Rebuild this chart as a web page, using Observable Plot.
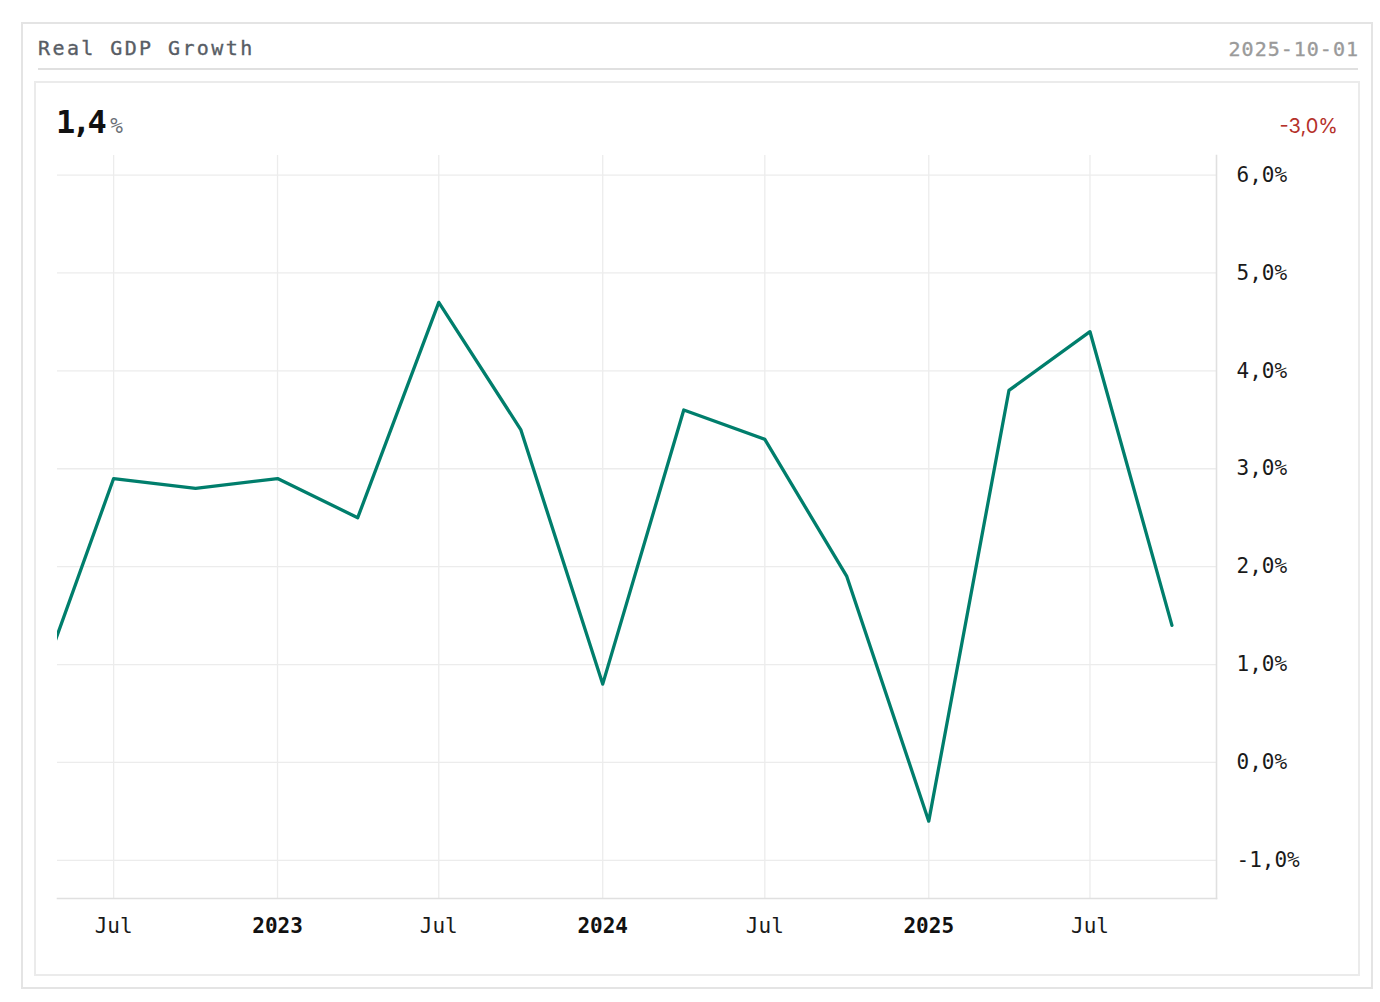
<!DOCTYPE html>
<html>
<head>
<meta charset="utf-8">
<script src="https://cdn.jsdelivr.net/npm/d3@7"></script>
<script src="https://cdn.jsdelivr.net/npm/@observablehq/plot@0.6"></script>
<style>
  html, body { margin: 0; padding: 0; background: #fff; }
  body { width: 1380px; height: 1002px; position: relative; overflow: hidden; }
  .outer { position: absolute; left: 21px; top: 22px; width: 1348px; height: 963px; border: 2px solid #e4e4e4; box-sizing: content-box; }
  .title { position: absolute; left: 38px; top: 36px; font: 400 20px "DejaVu Sans Mono", monospace; letter-spacing: 2.4px; color: #585d65; -webkit-text-stroke: 0.35px #585d65; }
  .date { position: absolute; right: 21px; top: 37px; font: 400 20px "DejaVu Sans Mono", monospace; letter-spacing: 1px; color: #9a9a9a; -webkit-text-stroke: 0.35px #9a9a9a; }
  .hline { position: absolute; left: 38px; top: 68px; width: 1320px; height: 2px; background: #e0e0e0; }
  .inner { position: absolute; left: 34px; top: 81px; width: 1322px; height: 891px; border: 2px solid #ebebeb; }
  .big { position: absolute; left: 56px; top: 103px; font: 700 32px "DejaVu Sans Mono", monospace; color: #111; letter-spacing: -3.5px; }
  .big span { font: 400 21px "DejaVu Sans Mono", monospace; color: #6a6f76; letter-spacing: 0; margin-left: 7px; }
  .chg { position: absolute; right: 42px; top: 114px; font: 400 20px Inter, sans-serif; color: #b5312a; }
  #chart { position: absolute; left: 37px; top: 140px; }
</style>
</head>
<body>
<div class="outer"></div>
<div class="title">Real GDP Growth</div>
<div class="date" id="date"></div>
<div class="hline"></div>
<div class="inner"></div>
<div class="big" id="big"></div>
<div class="chg" id="chg"></div>
<div id="chart"></div>
<script>
// Quarter start dates and annualized real GDP growth (%)
const quarters = ["2022-04-01","2022-07-01","2022-10-01","2023-01-01","2023-04-01","2023-07-01","2023-10-01","2024-01-01","2024-04-01","2024-07-01","2024-10-01","2025-01-01","2025-04-01","2025-07-01","2025-10-01"];
const growth = [0.6, 2.9, 2.8, 2.9, 2.5, 4.7, 3.4, 0.8, 3.6, 3.3, 1.9, -0.6, 3.8, 4.4, 1.4];
const yTicks = [-1, 0, 1, 2, 3, 4, 5, 6];
const yearTicks = ["2023-01-01", "2024-01-01", "2025-01-01"];
const julTicks = ["2022-07-01", "2023-07-01", "2024-07-01", "2025-07-01"];
const xDomain = ["2022-04-29", "2025-11-20"];
const yDomain = [-1.39, 6.2];

const data = quarters.map((q, i) => ({date: new Date(q + "T00:00:00Z"), value: growth[i]}));
const fmtPct = v => v.toFixed(1).replace(".", ",") + "%";
const last = growth[growth.length - 1];
const prev = growth[growth.length - 2];
document.getElementById("date").textContent = quarters[quarters.length - 1];
document.getElementById("big").innerHTML = last.toFixed(1).replace(".", ",") + "<span>%</span>";
document.getElementById("chg").textContent = fmtPct(last - prev);

const toDates = a => a.map(d => new Date(d + "T00:00:00Z"));
const allX = toDates([...yearTicks, ...julTicks]);

const chart = Plot.plot({
  width: 1300,
  height: 820,
  marginLeft: 20,
  marginRight: 121,
  marginTop: 15,
  marginBottom: 62,
  style: {fontFamily: "'DejaVu Sans Mono', monospace", fontSize: "21px", color: "#111", background: "transparent"},
  x: {type: "utc", domain: toDates(xDomain)},
  y: {domain: yDomain},
  marks: [
    Plot.gridY(yTicks, {stroke: "#ececec", strokeOpacity: 1, strokeWidth: 1.3}),
    Plot.gridX(allX, {stroke: "#ececec", strokeOpacity: 1, strokeWidth: 1.3}),
    Plot.frame({anchor: "right", stroke: "#e0e0e0", strokeWidth: 1.6}),
    Plot.frame({anchor: "bottom", stroke: "#e0e0e0", strokeWidth: 1.6}),
    Plot.axisY(yTicks, {anchor: "right", label: null, tickSize: 0, tickPadding: 20, tickFormat: fmtPct, fontSize: 21, fill: "#1a1a1a"}),
    Plot.axisX(toDates(julTicks), {anchor: "bottom", label: null, tickSize: 0, tickPadding: 20, tickFormat: () => "Jul", fontSize: 21, fill: "#1a1a1a"}),
    Plot.axisX(toDates(yearTicks), {anchor: "bottom", label: null, tickSize: 0, tickPadding: 20, tickFormat: d => String(d.getUTCFullYear()), fontSize: 21, fontWeight: "bold", fill: "#111"}),
    Plot.line(data, {x: "date", y: "value", stroke: "#007e6c", strokeWidth: 3.3, clip: true})
  ]
});
document.getElementById("chart").appendChild(chart);
</script>
</body>
</html>
